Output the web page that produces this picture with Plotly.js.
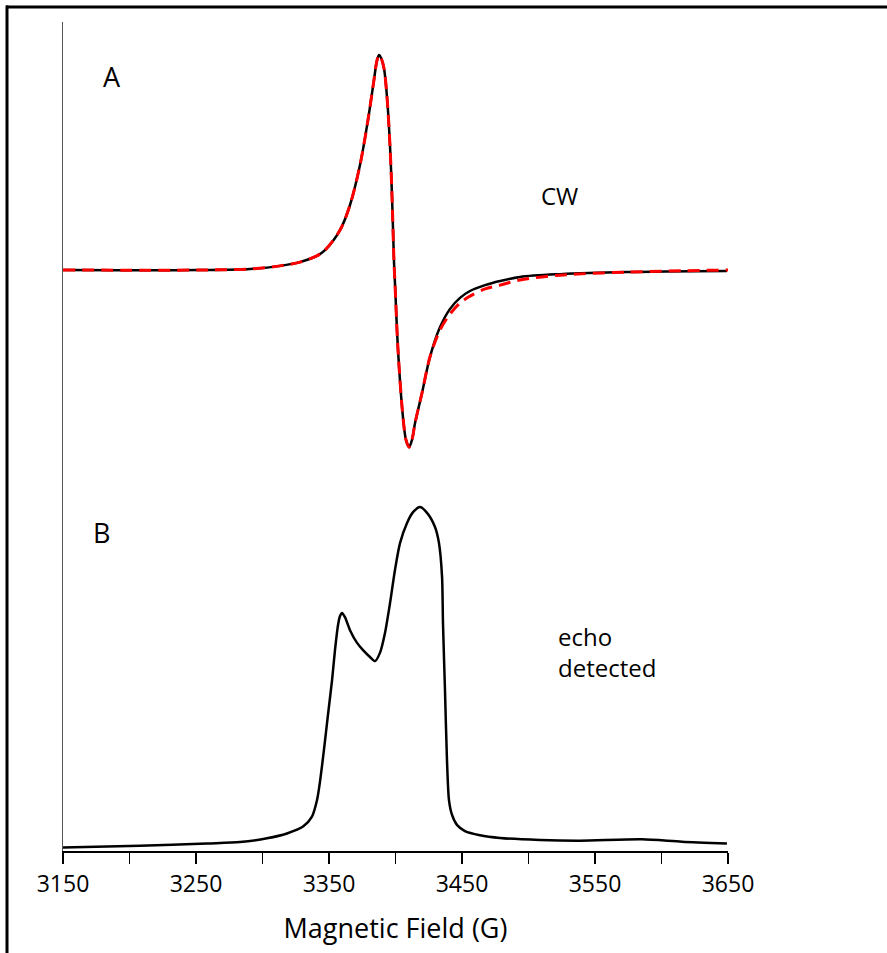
<!DOCTYPE html>
<html>
<head>
<meta charset="utf-8">
<script src="https://cdn.plot.ly/plotly-3.0.1.min.js"></script>
<style>
html,body{margin:0;padding:0;background:#fff;}
#chart{width:887px;height:953px;}
</style>
</head>
<body>
<div id="chart"></div>
<script>
// Magnetic field (G) and CW derivative signal (experimental, black)
var cwField = [3150,3253.0,3290.6,3313.2,3328.2,3340.8,3347.0,3358.3,3365.8,3373.3,3379.3,3383.8,3386.0,3387.6,3389.1,3391.4,3393.6,3395.9,3397.4,3398.9,3399.6,3401.9,3405.6,3407.9,3410.2,3412.4,3414.7,3419.9,3425.9,3433.5,3441.0,3448.5,3456.0,3467.3,3478.6,3493.6,3523.7,3574.1,3649.2];
var cwSignal = [0,0,0.003,0.012,0.023,0.041,0.058,0.116,0.189,0.305,0.436,0.552,0.608,0.625,0.617,0.585,0.503,0.358,0.212,0.020,-0.038,-0.233,-0.427,-0.494,-0.515,-0.494,-0.445,-0.358,-0.253,-0.166,-0.113,-0.081,-0.061,-0.044,-0.032,-0.020,-0.012,-0.006,-0.003];

// CW simulation (red dashed)
var simField = [3150,3253.0,3290.6,3313.2,3328.2,3340.8,3347.0,3358.3,3365.8,3373.3,3379.3,3383.8,3386.0,3387.6,3389.1,3391.4,3393.6,3395.9,3397.4,3398.9,3399.6,3401.9,3405.6,3407.9,3410.2,3412.4,3414.7,3419.9,3425.9,3433.5,3441.0,3448.5,3456.0,3467.3,3478.6,3493.6,3523.7,3574.1,3650];
var simSignal = [0,0,0.003,0.012,0.023,0.041,0.058,0.116,0.189,0.305,0.436,0.552,0.608,0.625,0.617,0.585,0.503,0.358,0.212,0.020,-0.038,-0.233,-0.427,-0.494,-0.515,-0.494,-0.445,-0.358,-0.253,-0.174,-0.128,-0.096,-0.076,-0.055,-0.044,-0.029,-0.015,-0.006,0];

// Echo-detected spectrum
var echoField = [3150,3207.9,3258.3,3283.1,3303.4,3318.4,3330.5,3337.2,3341.0,3343.2,3346.2,3349.2,3352.3,3354.5,3356.8,3358.3,3359.8,3362.0,3365.8,3371.1,3375.6,3380.8,3384.6,3388.3,3392.1,3395.9,3399.6,3403.4,3408.6,3413.2,3418.4,3423.7,3429.7,3432.7,3435.0,3435.7,3437.2,3438.7,3440.2,3442.5,3446.2,3452.2,3463.5,3478.6,3508.6,3538.7,3585.3,3615.4,3649.2];
var echoSignal = [0.010,0.015,0.022,0.026,0.037,0.051,0.071,0.100,0.148,0.201,0.294,0.395,0.497,0.584,0.657,0.683,0.692,0.680,0.642,0.605,0.584,0.564,0.552,0.576,0.634,0.721,0.817,0.895,0.953,0.985,1.0,0.983,0.942,0.895,0.797,0.663,0.468,0.265,0.148,0.105,0.076,0.058,0.046,0.038,0.032,0.030,0.034,0.027,0.022];

var xTickVals = [3150,3250,3350,3450,3550,3650];

var CW_OFFSET = 1.689;
var FONT = '"Open Sans", "DejaVu Sans", sans-serif';

function offset(arr, o){ return arr.map(function(v){ return v + o; }); }

var traces = [
  {x: cwField, y: offset(cwSignal, CW_OFFSET), mode: 'lines', type: 'scatter',
   line: {color: '#000', width: 2.5, shape: 'spline', smoothing: 0.9}, hoverinfo: 'skip'},
  {x: simField, y: offset(simSignal, CW_OFFSET), mode: 'lines', type: 'scatter',
   line: {color: '#ff0000', width: 3, dash: '12px,7px', shape: 'spline', smoothing: 0.9}, hoverinfo: 'skip'},
  {x: echoField, y: echoSignal, mode: 'lines', type: 'scatter',
   line: {color: '#000', width: 2.5, shape: 'spline', smoothing: 0.7}, hoverinfo: 'skip'}
];

var layout = {
  width: 887, height: 953,
  margin: {l: 63, r: 159, t: 22, b: 102, pad: 0},
  paper_bgcolor: '#fff', plot_bgcolor: '#fff',
  showlegend: false,
  font: {family: FONT, color: '#000'},
  xaxis: {
    range: [3150, 3650], tickvals: xTickVals, ticks: 'outside', ticklen: 11, tickwidth: 1.5, tickcolor: '#000',
    minor: {dtick: 50, tick0: 3150, ticks: 'outside', ticklen: 11, tickwidth: 1.5, tickcolor: '#000'},
    showline: true, linecolor: '#000', linewidth: 2, showgrid: false, zeroline: false,
    tickfont: {family: FONT, size: 23, color: '#000'},
    title: {text: 'Magnetic Field (G)', font: {family: FONT, size: 27, color: '#000'}, standoff: 22}
  },
  yaxis: {
    range: [0, 2.41], showline: true, linecolor: '#555', linewidth: 1,
    showticklabels: false, ticks: '', showgrid: false, zeroline: false
  },
  annotations: [
    {text: 'A', xref: 'paper', yref: 'paper', x: 0.0737, y: 0.9337, xanchor: 'center', yanchor: 'middle', showarrow: false, font: {size: 27}},
    {text: 'B', xref: 'paper', yref: 'paper', x: 0.0586, y: 0.3836, xanchor: 'center', yanchor: 'middle', showarrow: false, font: {size: 27}},
    {text: 'CW', xref: 'paper', yref: 'paper', x: 0.716, y: 0.7905, xanchor: 'left', yanchor: 'middle', showarrow: false, font: {size: 24}},
    {text: 'echo<br>detected', xref: 'paper', yref: 'paper', x: 0.741, y: 0.240, xanchor: 'left', yanchor: 'middle', align: 'left', showarrow: false, font: {size: 24}}
  ],
  shapes: [
    {type: 'line', xref: 'paper', yref: 'paper', x0: -0.0857, x1: 1.25, y0: 1.0181, y1: 1.0181, line: {color: '#000', width: 3}},
    {type: 'line', xref: 'paper', yref: 'paper', x0: -0.0842, x1: -0.0842, y0: 1.0199, y1: -0.13, line: {color: '#000', width: 3}}
  ]
};

Plotly.newPlot('chart', traces, layout, {staticPlot: true, displayModeBar: false});
</script>
</body>
</html>
